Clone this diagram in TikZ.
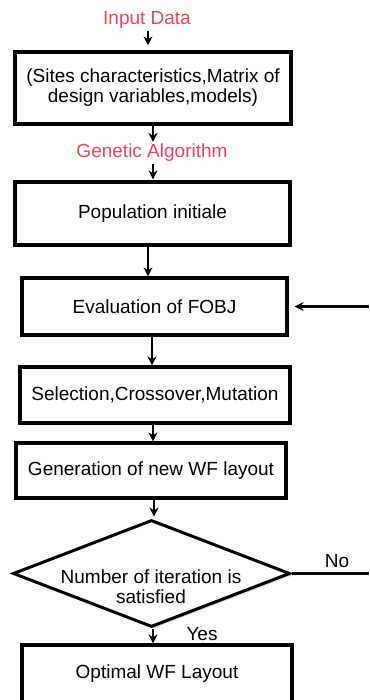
\documentclass[tikz,border=0pt]{standalone}
\usepackage{fontspec}
\setmainfont{Liberation Sans}
\usetikzlibrary{shapes.geometric,shadows,arrows.meta}
\definecolor{lblred}{RGB}{232,68,88}
\begin{document}
\begin{tikzpicture}[x=1pt,y=-1pt,
  box/.style={draw, line width=3.2pt, fill=white, rectangle, inner sep=0pt, align=center,
    font=\fontsize{19}{20}\selectfont,
    drop shadow={shadow xshift=2pt, shadow yshift=-2pt, opacity=0.3}},
  decision/.style={draw, diamond, line width=3pt, fill=white, inner sep=0pt,
    drop shadow={shadow xshift=2pt, shadow yshift=-2pt, opacity=0.3}},
  arr/.style={-{Stealth[length=9pt,width=9pt]}, line width=2.3pt},
  redlbl/.style={text=lblred, font=\fontsize{19}{20}\selectfont, inner sep=0pt},
  lbl/.style={font=\fontsize{19}{20}\selectfont, inner sep=0pt, align=center}]
\useasboundingbox (0,0) rectangle (369,700);

\node[redlbl] (in) at (147,20) {Input Data};
\node[box, minimum width=276pt, minimum height=72pt] (b1) at (153,88)
  {(Sites characteristics,Matrix of\\design variables,models)};
\node[redlbl] (ga) at (152,153) {Genetic Algorithm};
\node[box, minimum width=275pt, minimum height=63pt] (b2) at (152.5,213.5) {Population initiale};
\node[box, minimum width=265pt, minimum height=57pt] (b3) at (154.5,306.5) {Evaluation of FOBJ};
\node[box, minimum width=270pt, minimum height=56pt] (b4) at (155,395) {Selection,Crossover,Mutation};
\node[box, minimum width=270pt, minimum height=55pt] (b5) at (151,470.5) {Generation of new WF layout};
\node[decision, minimum width=277pt, minimum height=107pt] (d) at (151.5,573.5) {};
\node[lbl] (dt) at (151,587) {Number of iteration is\\satisfied};
\node[box, minimum width=270pt, minimum height=58pt] (b6) at (157,674) {Optimal WF Layout};
\node[lbl] (no) at (337,561) {No};
\node[lbl] (yes) at (202,634) {Yes};
\coordinate (r1) at (369,573.5);
\coordinate (r2) at (369,306.5);

\draw[arr, shorten <=2pt, shorten >=5pt] ([xshift=1pt]in.south) -- ([xshift=-5pt]b1.north);
\draw[arr, shorten >=2pt] (b1.south) -- ([xshift=1pt]ga.north);
\draw[arr, shorten <=2pt, shorten >=1pt] ([xshift=1pt]ga.south) -- ([xshift=0.5pt]b2.north);
\draw[arr] ([xshift=-4.5pt]b2.south) -- ([xshift=-6.5pt]b3.north);
\draw[arr] ([xshift=-2.5pt]b3.south) -- ([xshift=-3pt]b4.north);
\draw[arr] ([xshift=-2pt]b4.south) -- ([xshift=2pt]b5.north);
\draw[arr, shorten >=2pt] ([xshift=3pt]b5.south) -- ([xshift=2.5pt]d.north);
\draw[arr] ([xshift=1.5pt]d.south) -- ([xshift=-4pt]b6.north);
\draw[line width=2.3pt] (d.east) -- (r1);
\draw[arr, shorten >=6pt] (r2) -- (b3.east);
\end{tikzpicture}
\end{document}
